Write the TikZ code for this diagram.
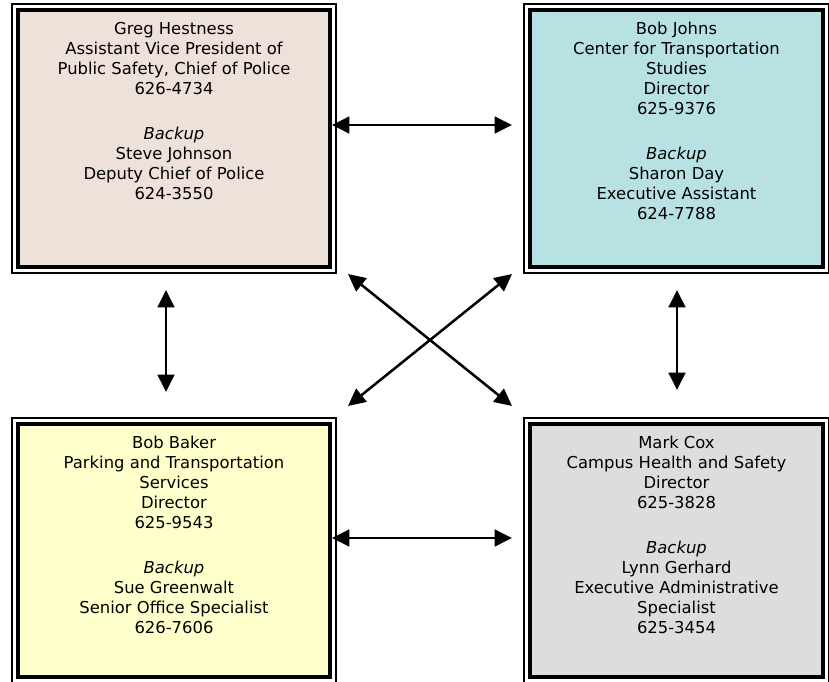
\documentclass[tikz,border=0pt]{standalone}
\usepackage{fontspec}
\setmainfont{DejaVu Sans}
\usetikzlibrary{arrows.meta}
\definecolor{tlfill}{HTML}{EEE1D9}
\definecolor{trfill}{HTML}{B8E1E4}
\definecolor{blfill}{HTML}{FFFFCC}
\definecolor{brfill}{HTML}{DDDDDD}
\begin{document}
\begin{tikzpicture}[x=0.75pt,y=-0.75pt,
  innerbox/.style={draw=black, line width=2.7pt, inner sep=0pt},
  outerline/.style={draw=black, line width=1.2pt},
  boxtext/.style={align=center, anchor=north, inner sep=0pt,
    font=\fontsize{12.3}{15}\selectfont},
  conn/.style={line width=1.9pt, {Triangle[length=13pt,width=12.5pt]}-{Triangle[length=13pt,width=12.5pt]}}]
\useasboundingbox (0,0) rectangle (829,682);

% boxes
\node[innerbox, fill=tlfill, minimum width=233.6pt, minimum height=192.4pt] (tl) at (174,138.5) {};
\node[innerbox, fill=trfill, minimum width=219.4pt, minimum height=192.4pt] (tr) at (676.5,138.5) {};
\node[innerbox, fill=blfill, minimum width=233.6pt, minimum height=189.4pt] (bl) at (174,550.5) {};
\node[innerbox, fill=brfill, minimum width=219.4pt, minimum height=189.4pt] (br) at (676.5,550.5) {};

\foreach \b in {tl,tr,bl,br}{
  \draw[outerline] ([shift={(-4.3,-4.3)}]\b.north west) rectangle ([shift={(4.3,4.3)}]\b.south east);
}

% texts
\node[boxtext] (tlt) at ([yshift=-10pt]tl.north) {Greg Hestness\\Assistant Vice President of\\Public Safety, Chief of Police\\626-4734\\[18.75pt]\textit{Backup}\\Steve Johnson\\Deputy Chief of Police\\624-3550};
\node[boxtext] (trt) at ([yshift=-10pt]tr.north) {Bob Johns\\Center for Transportation\\Studies\\Director\\625-9376\\[18.75pt]\textit{Backup}\\Sharon Day\\Executive Assistant\\624-7788};
\node[boxtext] (blt) at ([yshift=-10pt]bl.north) {Bob Baker\\Parking and Transportation\\Services\\Director\\625-9543\\[18.75pt]\textit{Backup}\\Sue Greenwalt\\Senior Office Specialist\\626-7606};
\node[boxtext] (brt) at ([yshift=-10pt]br.north) {Mark Cox\\Campus Health and Safety\\Director\\625-3828\\[18.75pt]\textit{Backup}\\Lynn Gerhard\\Executive Administrative\\Specialist\\625-3454};

% connector end points
\coordinate (h1a) at (332,125);
\coordinate (h1b) at (512,125);
\coordinate (h2a) at (332,538);
\coordinate (h2b) at (512,538);
\coordinate (v1a) at (166,290);
\coordinate (v1b) at (166,392);
\coordinate (v2a) at (677,290);
\coordinate (v2b) at (677,390);
\coordinate (d1a) at (348,274);
\coordinate (d1b) at (512,406);
\coordinate (d2a) at (512,274);
\coordinate (d2b) at (348,406);

\draw[conn] (h1a) -- (h1b);
\draw[conn] (h2a) -- (h2b);
\draw[conn] (v1a) -- (v1b);
\draw[conn] (v2a) -- (v2b);
\draw[conn] (d1a) -- (d1b);
\draw[conn] (d2a) -- (d2b);
\end{tikzpicture}
\end{document}
